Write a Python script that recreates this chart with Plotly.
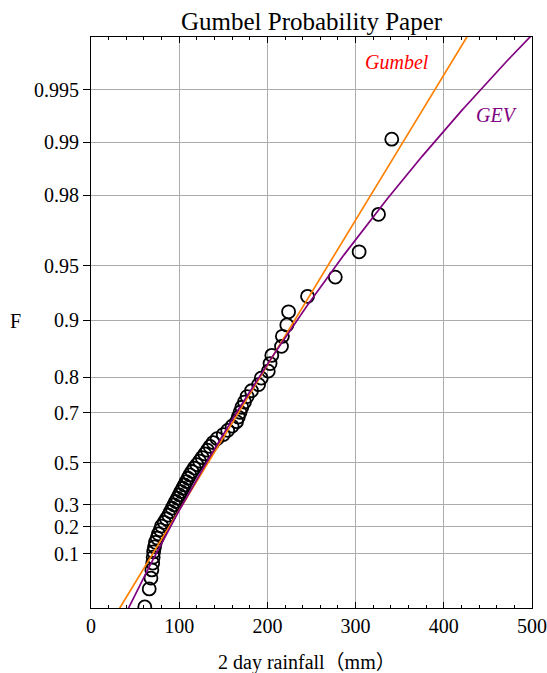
import numpy as np
import plotly.graph_objects as go

# Annual maximum 2-day rainfall (mm), sorted ascending
rainfall_mm = [
    61, 66, 68, 69, 70, 70.5, 71, 72, 73, 75,
    76.5, 78.5, 80, 83, 85.5, 88, 90, 92, 94, 96,
    98, 100, 102, 104, 106, 108, 110, 112, 114.5, 117,
    120, 123, 126, 129, 132, 135, 138.5, 143, 150, 155,
    160, 165, 167, 169, 171, 174, 177, 182, 190, 193,
    201, 203, 205, 216, 217, 222, 224, 245.5, 277, 304,
    326, 341,
]

# Non-exceedance probability assigned to each sorted value
plotting_prob = [
    0.0096, 0.0257, 0.0418, 0.0579, 0.0740, 0.0900, 0.1061, 0.1222, 0.1383, 0.1543,
    0.1704, 0.1865, 0.2026, 0.2186, 0.2347, 0.2508, 0.2669, 0.2830, 0.2990, 0.3151,
    0.3312, 0.3473, 0.3633, 0.3794, 0.3955, 0.4116, 0.4277, 0.4437, 0.4598, 0.4759,
    0.4920, 0.5080, 0.5241, 0.5402, 0.5563, 0.5723, 0.5884, 0.6045, 0.6206, 0.6367,
    0.6527, 0.6688, 0.6849, 0.7010, 0.7170, 0.7331, 0.7492, 0.7653, 0.7814, 0.7974,
    0.8135, 0.8296, 0.8457, 0.8617, 0.8778, 0.8939, 0.9100, 0.9260, 0.9421, 0.9582,
    0.9743, 0.9904,
]

# Probability-axis ticks
f_ticks = [0.1, 0.2, 0.3, 0.5, 0.7, 0.8, 0.9, 0.95, 0.98, 0.99, 0.995]
f_tick_labels = ["0.1", "0.2", "0.3", "0.5", "0.7", "0.8", "0.9", "0.95", "0.98", "0.99", "0.995"]
x_ticks = [0, 100, 200, 300, 400, 500]

# Fitted distribution parameters
gumbel_loc, gumbel_scale = 113.5, 52.2
gev_loc, gev_scale, gev_shape = 112.6, 48.5, -0.09


def reduced_variate(F):
    """Gumbel reduced variate y = -ln(-ln F)."""
    return -np.log(-np.log(np.asarray(F, dtype=float)))


y_obs = reduced_variate(plotting_prob)
y_line = np.linspace(-1.7, 6.1, 300)
x_gumbel = gumbel_loc + gumbel_scale * y_line
x_gev = gev_loc + gev_scale / gev_shape * (1.0 - np.exp(-gev_shape * y_line))

SERIF = "Liberation Serif, Times New Roman, serif"
ORANGE = "#FF8000"
PURPLE = "#800080"

fig = go.Figure()
fig.add_trace(go.Scatter(
    x=rainfall_mm, y=y_obs, mode="markers",
    marker=dict(symbol="circle-open", size=13, color="black", line=dict(width=1.8, color="black")),
    showlegend=False,
))
fig.add_trace(go.Scatter(
    x=x_gumbel, y=y_line, mode="lines",
    line=dict(color=ORANGE, width=1.7), showlegend=False,
))
fig.add_trace(go.Scatter(
    x=x_gev, y=y_line, mode="lines",
    line=dict(color=PURPLE, width=1.7), showlegend=False,
))

fig.update_layout(
    width=547, height=673,
    margin=dict(l=91, r=15, t=37, b=65),
    plot_bgcolor="white", paper_bgcolor="white",
    font=dict(family=SERIF, size=20, color="black"),
    showlegend=False,
    xaxis=dict(
        range=[0, 500], tickvals=x_ticks, ticktext=[str(v) for v in x_ticks],
        ticks="inside", ticklen=6, tickwidth=1, tickcolor="black",
        minor=dict(dtick=20, ticks="inside", ticklen=3, tickcolor="black", showgrid=False),
        showline=True, linecolor="black", linewidth=1, mirror="ticks",
        showgrid=True, gridcolor="#ababab", gridwidth=1, zeroline=False,
        automargin=False,
        tickfont=dict(family=SERIF, size=20, color="black"),
    ),
    yaxis=dict(
        range=[-1.55, 5.99], tickvals=list(reduced_variate(f_ticks)), ticktext=f_tick_labels,
        ticks="outside", ticklen=7, tickwidth=1, tickcolor="black",
        showline=True, linecolor="black", linewidth=1, mirror=True,
        showgrid=True, gridcolor="#ababab", gridwidth=1, zeroline=False,
        automargin=False,
        tickfont=dict(family=SERIF, size=20, color="black"),
    ),
    annotations=[
        dict(text="Gumbel Probability Paper", xref="paper", yref="paper", x=0.5, y=1.028,
             xanchor="center", yanchor="middle", showarrow=False,
             font=dict(family=SERIF, size=25, color="black")),
        dict(text="F", xref="paper", yref="paper", x=-0.172, y=0.503,
             xanchor="center", yanchor="middle", showarrow=False,
             font=dict(family=SERIF, size=20, color="black")),
        dict(text="2 day rainfall（mm）", xref="paper", yref="paper", x=0.49, y=-0.095,
             xanchor="center", yanchor="middle", showarrow=False,
             font=dict(family="Liberation Serif, Noto Sans CJK JP, serif", size=20, color="black")),
        dict(text="<i>Gumbel</i>", xref="x", yref="y", x=347, y=5.665,
             xanchor="center", yanchor="middle", showarrow=False,
             font=dict(family=SERIF, size=20, color="#FF0000")),
        dict(text="<i>GEV</i>", xref="x", yref="y", x=460, y=4.966,
             xanchor="center", yanchor="middle", showarrow=False,
             font=dict(family=SERIF, size=20, color=PURPLE)),
    ],
)

fig.write_html("out.html")
